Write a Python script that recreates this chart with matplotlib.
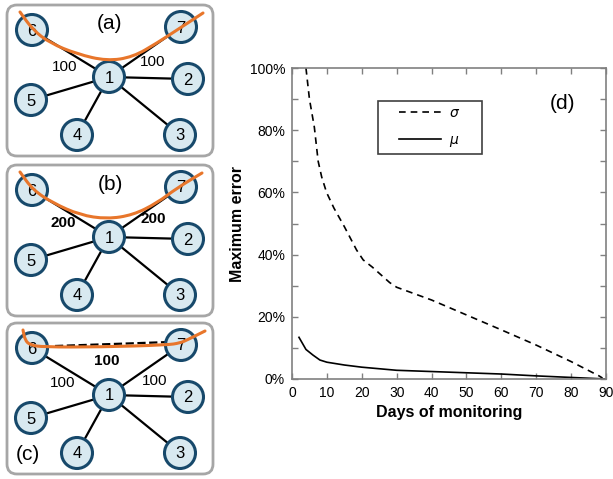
import numpy as np
import matplotlib
matplotlib.use("Agg")
import matplotlib.pyplot as plt
from matplotlib.patches import FancyBboxPatch, Circle, Rectangle
from matplotlib.path import Path
from matplotlib.patches import PathPatch
from matplotlib.ticker import PercentFormatter, MultipleLocator

plt.rcParams['font.family'] = ['Liberation Sans', 'DejaVu Sans']

# chart (d) data
mu_days = [2, 4, 6, 8, 10, 15, 20, 30, 40, 50, 60, 70, 80, 90]
mu_err = [13.4, 9.5, 7.7, 6.1, 5.4, 4.5, 3.8, 2.8, 2.4, 2.0, 1.6, 1.0, 0.5, 0.0]
sigma_days = [4, 5, 6.4, 7.5, 8.5, 9.9, 12, 15, 18.5, 20.4, 23, 28, 30, 40, 50, 60, 70, 80, 88, 89]
sigma_err = [100, 90, 81, 70, 65, 60, 55, 49, 41.5, 38.3, 36, 31, 29.5, 25.4, 20.6, 15.8, 10.9, 5.6, 1.0, 0.3]
x_ticks = list(range(0, 91, 10))

# network sketch (pixel layout, relative to each panel top)
nodes = {1: (109, 77), 2: (188, 79), 3: (180, 135), 4: (77, 135),
         5: (31, 100), 6: (32, 30), 7: (181, 27)}
edges = [(1, 6), (1, 7), (1, 2), (1, 5), (1, 4), (1, 3)]
panel_offsets = [0, 160, 318]
panel_tags = ["(a)", "(b)", "(c)"]
tag_pos = [(110, 23), (110, 25), (28, 137)]
edge_labels = [["100", "100"], ["200", "200"], ["100", "100"]]
edge_label_pos = [[(65, 67), (153, 62)], [(63, 63), (153, 59)], [(63, 65), (155, 63)]]
edge_label_bold = [False, True, False]
cut_curves = [
    [(20, 12), (33, 30), (50, 43), (77, 54), (107, 61), (133, 57), (157, 43), (177, 30), (203, 13)],
    [(20, 12), (33, 30), (53, 43), (80, 55), (107, 59), (133, 55), (157, 43), (177, 28), (202, 13)],
    [(23, 12), (25, 22), (30, 27), (43, 29), (100, 29), (167, 27), (180, 25), (187, 22), (205, 13)],
]

fig = plt.figure(figsize=(6.13, 4.79), dpi=100)

# left: network panels drawn in pixel coords
ax0 = fig.add_axes([0, 0, 1, 1])
ax0.set_xlim(0, 613)
ax0.set_ylim(479, 0)
ax0.axis('off')

node_fill = '#d8e9f0'
node_edge = '#17496b'
orange = '#e8762b'


def smooth_path(pts):
    pts = np.array(pts, float)
    verts = [pts[0], (pts[0] + pts[1]) / 2]
    codes = [Path.MOVETO, Path.LINETO]
    for i in range(1, len(pts) - 1):
        verts += [pts[i], (pts[i] + pts[i + 1]) / 2]
        codes += [Path.CURVE3, Path.CURVE3]
    verts.append(pts[-1])
    codes.append(Path.LINETO)
    return Path(verts, codes)


for k, off in enumerate(panel_offsets):
    box = FancyBboxPatch((7, off + 5), 206, 151, boxstyle="round,pad=0,rounding_size=10",
                         fc='white', ec='#a6a6a6', lw=2.0, zorder=1)
    ax0.add_patch(box)
    for a, b in edges:
        xa, ya = nodes[a]
        xb, yb = nodes[b]
        ax0.plot([xa, xb], [ya + off, yb + off], color='black', lw=1.6, zorder=2)
    if k == 2:
        ax0.plot([55, 170], [off + 28, off + 24], color='black', lw=1.6, ls='--', zorder=2)
        ax0.text(107, off + 43, "100", fontsize=11, fontweight='bold', ha='center', va='center', zorder=3)
    for n, (x, y) in nodes.items():
        ax0.add_patch(Circle((x, y + off), 15.5, fc=node_fill, ec=node_edge, lw=2.2, zorder=3))
        ax0.text(x, y + off + 1, str(n), fontsize=12, ha='center', va='center', zorder=4)
    for lab, (x, y) in zip(edge_labels[k], edge_label_pos[k]):
        ax0.text(x, y + off, lab, fontsize=11, ha='center', va='center',
                 fontweight='bold' if edge_label_bold[k] else 'normal', zorder=4)
    tx, ty = tag_pos[k]
    ax0.text(tx, ty + off, panel_tags[k], fontsize=15, ha='center', va='center', zorder=4)
    pts = [(x, y + off) for x, y in cut_curves[k]]
    ax0.add_patch(PathPatch(smooth_path(pts), fc='none', ec=orange, lw=2.2,
                            capstyle='round', zorder=5))

# right: error chart
ax = fig.add_axes([292 / 613, 1 - 379 / 479, 314 / 613, 311 / 479])
ax.plot(sigma_days, sigma_err, color='black', ls=(0, (4, 3)), lw=1.2, label=r'$\sigma$')
ax.plot(mu_days, mu_err, color='black', lw=1.2, label=r'$\mu$')
ax.set_xlim(0, 90)
ax.set_ylim(0, 100)
ax.set_xticks(x_ticks)
ax.yaxis.set_major_locator(MultipleLocator(20))
ax.yaxis.set_minor_locator(MultipleLocator(10))
ax.yaxis.set_major_formatter(PercentFormatter(decimals=0))
ax.tick_params(which='both', direction='in', top=True, right=True, color='#808080',
               labelsize=10, length=4, width=1, pad=5)
ax.tick_params(which='minor', length=4)
for s in ax.spines.values():
    s.set_color('#808080')
    s.set_linewidth(1.2)
ax.set_xlabel("Days of monitoring", fontsize=11.5, fontweight='bold', labelpad=4)
ax.set_ylabel("Maximum error", fontsize=11.5, fontweight='bold', labelpad=3)
ax.text(0.863, 0.887, "(d)", transform=ax.transAxes, fontsize=15, ha='center', va='center')

ax.add_patch(Rectangle((0.274, 0.723), 0.331, 0.171, transform=ax.transAxes,
                       fc='white', ec='#404040', lw=1.2, zorder=3))
ax.legend(loc='center', bbox_to_anchor=(0.4395, 0.8085), frameon=False, fontsize=10,
          handlelength=3.0, labelspacing=0.9, handletextpad=0.6).set_zorder(4)

fig.savefig("out.png", dpi=100)
